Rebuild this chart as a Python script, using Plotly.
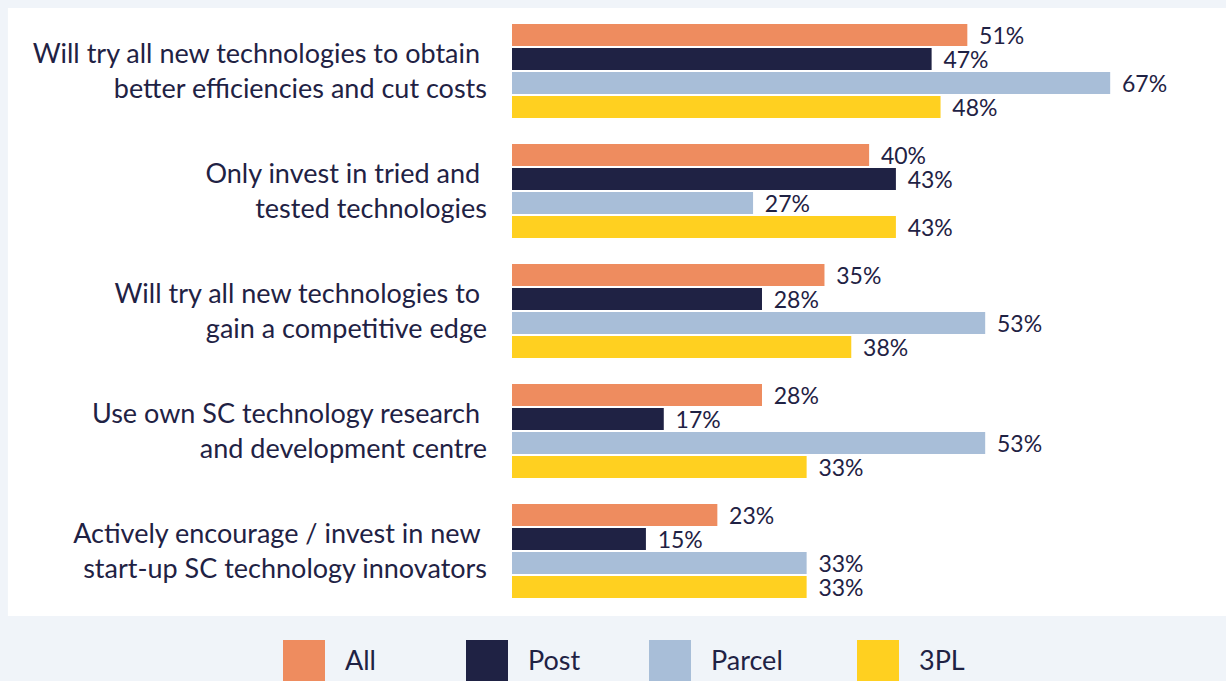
import plotly.graph_objects as go

categories = [
    "Will try all new technologies to obtain\u00a0<br>better efficiencies and cut costs",
    "Only invest in tried and\u00a0<br>tested technologies",
    "Will try all new technologies to\u00a0<br>gain a competitive edge",
    "Use own SC technology research\u00a0<br>and development centre",
    "Actively encourage / invest in new\u00a0<br>start-up SC technology innovators",
]
series_names = ["All", "Post", "Parcel", "3PL"]
all_vals = [51, 40, 35, 28, 23]
post_vals = [47, 43, 28, 17, 15]
parcel_vals = [67, 27, 53, 53, 33]
tpl_vals = [48, 43, 38, 33, 33]
colors = ["#ee8c5f", "#1f2244", "#a8bed8", "#ffd020"]

series = [all_vals, post_vals, parcel_vals, tpl_vals]
FONT = "Lato"
TXT = "#1f2244"
BG = "#f0f4f9"

fig = go.Figure()
for name, vals, col in zip(series_names, series, colors):
    fig.add_trace(go.Bar(
        name=name, y=categories, x=vals, orientation="h",
        marker=dict(color=col, line=dict(width=0)),
        text=[f"{v}%" for v in vals], textposition="outside",
        texttemplate="\u00a0\u2009%{text}", constraintext="none",
        textfont=dict(family=FONT, size=23, color=TXT),
        cliponaxis=False, showlegend=False, hoverinfo="skip",
    ))

fig.update_layout(
    width=1226, height=681,
    margin=dict(l=512, r=6, t=11, b=70),
    paper_bgcolor=BG, plot_bgcolor="#ffffff",
    barmode="group", bargap=0.2, bargroupgap=0.083,
    font=dict(family=FONT, color=TXT),
    xaxis=dict(range=[0, 79.3], visible=False, showgrid=False, zeroline=False),
    yaxis=dict(autorange="reversed", showgrid=False, zeroline=False, showline=False,
               ticks="", ticklabelstandoff=24,
               tickfont=dict(family=FONT, size=27, color=TXT)),
    showlegend=False,
)

# white panel behind the chart
fig.add_shape(type="rect", xref="paper", yref="paper",
              x0=-0.712, x1=1.0085, y0=-0.00833, y1=1.005,
              fillcolor="#ffffff", line=dict(width=0), layer="below")

# custom legend
leg_x = [283, 466, 649, 857]
for name, col, px in zip(series_names, colors, leg_x):
    x0 = (px - 512) / 708
    x1 = (px + 42 - 512) / 708
    fig.add_shape(type="rect", xref="paper", yref="paper",
                  x0=x0, x1=x1, y0=(611 - 690) / 600, y1=(611 - 640) / 600,
                  fillcolor=col, line=dict(width=0))
    fig.add_annotation(xref="paper", yref="paper", x=(px + 60 - 512) / 708,
                       y=(611 - 660) / 600, text=name, showarrow=False,
                       xanchor="left", yanchor="middle",
                       font=dict(family=FONT, size=27, color=TXT))

fig.write_html(
    "out.html",
    config={"displayModeBar": False},
    post_script="document.body.style.margin='0';document.body.style.background='%s';" % BG,
)
